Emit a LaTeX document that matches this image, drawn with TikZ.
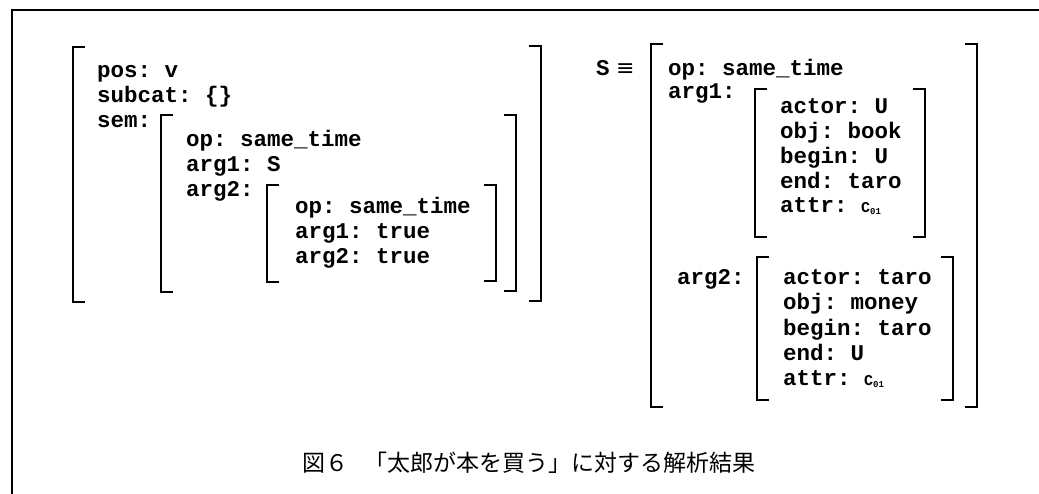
\documentclass[tikz,border=0pt]{standalone}
\usepackage{fontspec}
\setmonofont{Liberation Mono}
\newfontfamily\cjk{Noto Sans CJK JP}
\newfontfamily\symf{DejaVu Sans}
\newcommand\LBr[3]{\draw[brk] ({#1+12},#2) -- (#1,#2) -- (#1,#3) -- ({#1+12},#3);}
\newcommand\RBr[3]{\draw[brk] ({#1-12},#2) -- (#1,#2) -- (#1,#3) -- ({#1-12},#3);}
\newcommand\Cz{{\fontsize{15}{15}\selectfont C}\raisebox{-2pt}{\fontsize{9}{9}\selectfont 01}}
\tikzset{
  frameline/.style={line width=1.6pt},
  brk/.style={line width=1.7pt, line join=miter},
  fs/.style={anchor=base west, inner sep=0pt, font=\ttfamily\bfseries\fontsize{22.5}{25}\selectfont},
  captext/.style={anchor=base west, inner sep=0pt, font=\cjk\fontsize{23}{23}\selectfont}
}
\begin{document}
\begin{tikzpicture}[x=1pt,y=-1pt]
\useasboundingbox (0,0) rectangle (1039,494);
\fill[white] (0,0) rectangle (1039,494);
% frame
\draw[frameline] (1039,10) -- (12,10) -- (12,494);

% ---- left AVM ----
\LBr{73}{47}{302}
\RBr{541}{46}{301}
\node[fs] (pos) at (97,78) {pos: v};
\node[fs] (subcat) at (97,103) {subcat: \{\}};
\node[fs] (sem) at (97,128) {sem:};
\LBr{161}{115}{292}
\RBr{516}{115}{291}
\node[fs] (op1) at (186,147) {op: same\_time};
\node[fs] (a11) at (186,172) {arg1: S};
\node[fs] (a12) at (186,197) {arg2:};
\LBr{267}{185}{282}
\RBr{496}{185}{281}
\node[fs] (op2) at (295,214) {op: same\_time};
\node[fs] (a21) at (295,239) {arg1: true};
\node[fs] (a22) at (295,264) {arg2: true};

% ---- right AVM ----
\node[fs] (S) at (596,76) {S};
\node[anchor=base west, inner sep=0pt, font=\symf\fontsize{22}{22}\selectfont] (eq) at (616,76) {≡};
\LBr{651}{44}{407}
\RBr{977}{44}{407}
\node[fs] (rop) at (668,76) {op: same\_time};
\node[fs] (ra1) at (668,99) {arg1:};
\LBr{755}{89}{237}
\RBr{925}{89}{237}
\node[fs] (b1) at (780,114) {actor: U};
\node[fs] (b2) at (780,139) {obj: book};
\node[fs] (b3) at (780,164) {begin: U};
\node[fs] (b4) at (780,189) {end: taro};
\node[fs] (b5) at (780,213) {attr: \Cz};
\node[fs] (ra2) at (677,285) {arg2:};
\LBr{757}{257}{400}
\RBr{953}{257}{400}
\node[fs] (c1) at (783,285) {actor: taro};
\node[fs] (c2) at (783,310) {obj: money};
\node[fs] (c3) at (783,335) {begin: taro};
\node[fs] (c4) at (783,360) {end: U};
\node[fs] (c5) at (783,385) {attr: \Cz};

% ---- caption ----
\node[captext] (fig) at (302,471) {図６};
\node[captext] (title) at (364,471) {「太郎が本を買う」に対する解析結果};
\end{tikzpicture}
\end{document}
